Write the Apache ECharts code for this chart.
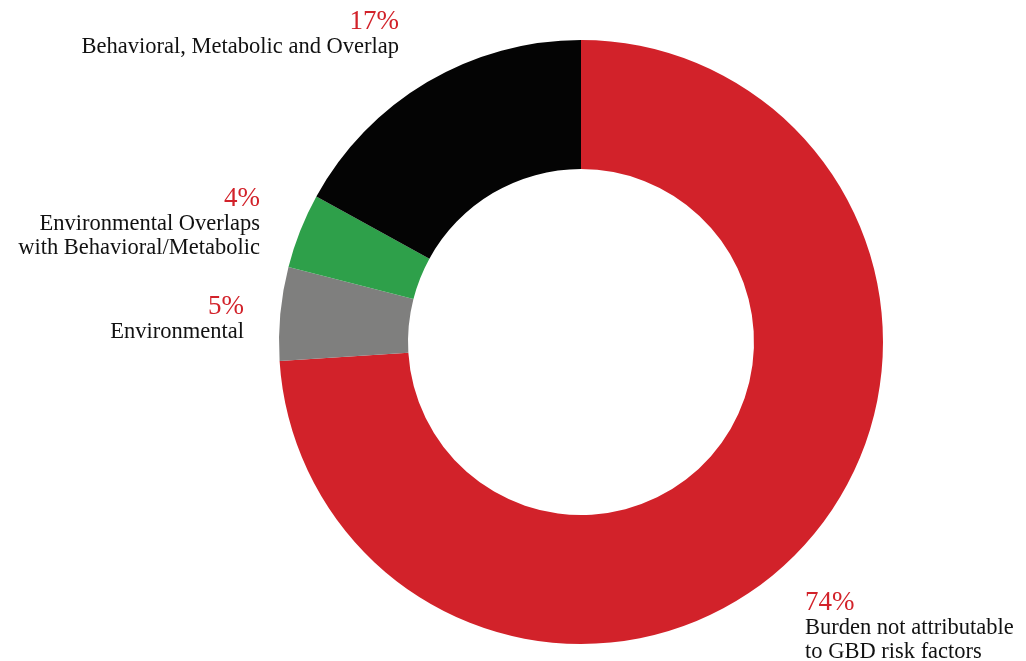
<!DOCTYPE html>
<html>
<head>
<meta charset="utf-8">
<script src="https://cdn.jsdelivr.net/npm/echarts@6/dist/echarts.min.js"></script>
<style>
html, body { margin: 0; padding: 0; background: #fff; }
#chart-panel { width: 1026px; height: 661px; }
</style>
</head>
<body>
<div id="chart-panel"></div>
<script>
// data, clockwise from 12 o'clock
var names = [
    'Burden not attributable\nto GBD risk factors',
    'Environmental',
    'Environmental Overlaps\nwith Behavioral/Metabolic',
    'Behavioral, Metabolic and Overlap'
];
var shares = [74, 5, 4, 17];
var colors = ['#d2222a', '#7f7f7e', '#2ea04a', '#040404'];

// where each label block sits (anchor x, top y, alignment)
var labelSpots = [
    { x: 805, y: 589, align: 'left' },
    { x: 244, y: 293, align: 'right' },
    { x: 260, y: 185, align: 'right' },
    { x: 399, y: 8, align: 'right' }
];

var myChart = echarts.init(document.getElementById('chart-panel'));

var data = [];
for (var i = 0; i < names.length; i++) {
    data.push({ name: names[i], value: shares[i], itemStyle: { color: colors[i] } });
}

var option = {
    backgroundColor: '#fff',
    animation: false,
    series: [
        {
            type: 'pie',
            center: [581, 342],
            radius: [173, 302],
            startAngle: 90,
            clockwise: true,
            avoidLabelOverlap: false,
            itemStyle: { borderWidth: 0 },
            label: {
                show: true,
                fontFamily: 'Liberation Serif',
                formatter: function (p) {
                    var lines = p.name.split('\n').map(function (s) { return '{n|' + s + '}'; });
                    return '{p|' + p.value + '%}\n' + lines.join('\n');
                },
                rich: {
                    p: { fontSize: 27, lineHeight: 27, color: '#d2222a', fontFamily: 'Liberation Serif' },
                    n: { fontSize: 22.5, lineHeight: 24, color: '#111', fontFamily: 'Liberation Serif' }
                }
            },
            labelLine: { show: false },
            labelLayout: function (params) {
                var s = labelSpots[params.dataIndex];
                return { x: s.x, y: s.y, align: s.align, verticalAlign: 'top' };
            },
            emphasis: { disabled: true },
            data: data
        }
    ]
};
myChart.setOption(option);
</script>
</body>
</html>
